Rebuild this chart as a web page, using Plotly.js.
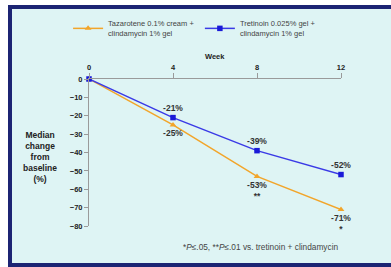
<!DOCTYPE html>
<html>
<head>
<meta charset="utf-8">
<script src="https://cdn.plot.ly/plotly-3.0.1.min.js"></script>
<style>
html,body{margin:0;padding:0;background:#ffffff;}
#wrap{position:relative;width:391px;height:267px;overflow:hidden;background:#ffffff;}
#frame{position:absolute;left:8px;top:5px;width:379px;height:254px;background:#def4f4;
  border-left:4px solid #1c2473;border-top:4px solid #1c2473;border-bottom:4px solid #1c2473;}
#chart{position:absolute;left:0;top:0;width:391px;height:267px;}
</style>
</head>
<body>
<div id="wrap"><div id="frame"></div><div id="chart"></div></div>
<script>
var weeks = [0, 4, 8, 12];
var weekTicks = ["0", "4", "8", "12"];
var tazName = "Tazarotene 0.1% cream +<br>clindamycin 1% gel";
var tretName = "Tretinoin 0.025% gel +<br>clindamycin 1% gel";
var tazValues = [0, -25, -53, -71];
var tretValues = [0, -21, -39, -52];
var tazLabels = ["", "-25%", "-53%<br>**", "-71%<br>*"];
var tretLabels = ["", "-21%", "-39%", "-52%"];
var yTicks = [0, -10, -20, -30, -40, -50, -60, -70, -80];
var yTitle = "Median<br>change<br>from<br>baseline<br>(%)";
var xTitle = "Week";
var footnote = "*<i>P</i>≤.05, **<i>P</i>≤.01 vs. tretinoin + clindamycin";

var fnt = "Liberation Sans, Arial, sans-serif";
var traces = [
  {x: weeks, y: tazValues, name: tazName, type: "scatter", mode: "lines+markers+text",
   legend: "legend",
   text: tazLabels, textposition: "bottom center", cliponaxis: false,
   textfont: {family: fnt, size: 8.5, color: "#333333", weight: "bold"},
   line: {color: "#f2a52a", width: 1.5},
   marker: {symbol: "triangle-up", size: 6, color: "#f2a52a"}},
  {x: weeks, y: tretValues, name: tretName, type: "scatter", mode: "lines+markers+text",
   legend: "legend2",
   text: tretLabels, textposition: "top center", cliponaxis: false,
   textfont: {family: fnt, size: 8.5, color: "#333333", weight: "bold"},
   line: {color: "#3a3ae6", width: 1.5},
   marker: {symbol: "square", size: 5.5, color: "#1a1ad8"}}
];

var legBase = {orientation: "v", xanchor: "left", yanchor: "top",
  bgcolor: "rgba(0,0,0,0)", font: {family: fnt, size: 7.5, color: "#444444"},
  itemwidth: 30, tracegroupgap: 0};

var layout = {
  width: 391, height: 267,
  margin: {l: 89, r: 50, t: 79, b: 41, pad: 0},
  paper_bgcolor: "rgba(0,0,0,0)",
  plot_bgcolor: "rgba(0,0,0,0)",
  font: {family: fnt, size: 7, color: "#333333"},
  showlegend: true,
  legend: Object.assign({}, legBase, {x: -0.083, y: 1.455}),
  legend2: Object.assign({}, legBase, {x: 0.44, y: 1.455}),
  xaxis: {range: [0, 12], side: "top", tickvals: weeks, ticktext: weekTicks,
    showgrid: false, zeroline: false, showline: true, linecolor: "#9a9a9a", linewidth: 1,
    ticks: "outside", ticklen: 5, tickcolor: "#9a9a9a",
    tickfont: {family: fnt, size: 7.5, color: "#222222", weight: "bold"}},
  yaxis: {range: [-80, 0], tickvals: yTicks,
    showgrid: false, zeroline: false, showline: true, linecolor: "#9a9a9a", linewidth: 1,
    ticks: "outside", ticklen: 4, tickcolor: "#9a9a9a",
    tickfont: {family: fnt, size: 7.5, color: "#222222", weight: "bold"}},
  annotations: [
    {xref: "paper", yref: "paper", x: -0.194, y: 0.47, xanchor: "center", yanchor: "middle",
     text: yTitle, showarrow: false,
     align: "center", font: {family: fnt, size: 8.5, color: "#222222", weight: "bold"}},
    {xref: "paper", yref: "paper", x: 0.5, y: 1.2, xanchor: "center", text: xTitle, showarrow: false,
     font: {family: fnt, size: 7.5, color: "#222222", weight: "bold"}},
    {xref: "paper", yref: "paper", x: 0.995, y: -0.19, xanchor: "right", text: footnote,
     showarrow: false, font: {family: fnt, size: 8.3, color: "#444444"}}
  ]
};
Plotly.newPlot("chart", traces, layout, {displayModeBar: false, staticPlot: true});
</script>
</body>
</html>
